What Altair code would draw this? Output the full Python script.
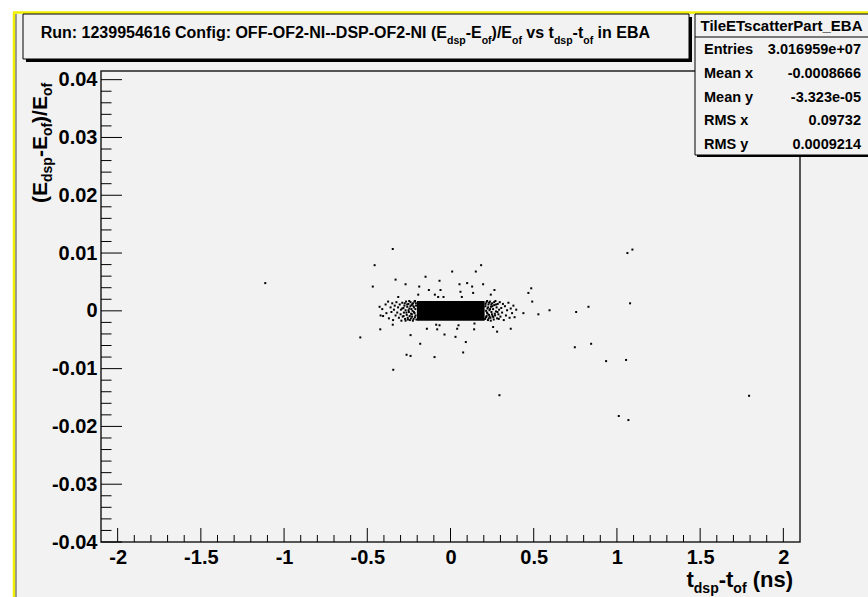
import altair as alt
import pandas as pd

# ---------------- data ----------------
core_x = [-0.202]
core_x2 = [0.205]
core_y = [-0.0017]
core_y2 = [0.0017]

halo_x = [-0.41, -0.405, -0.39, -0.385, -0.375, -0.37, -0.36, -0.355, -0.35, -0.345,
          -0.34, -0.335, -0.33, -0.325, -0.32, -0.315, -0.31, -0.305, -0.3, -0.298,
          -0.295, -0.29, -0.287, -0.283, -0.28, -0.277, -0.273, -0.27, -0.267, -0.263,
          -0.26, -0.257, -0.253, -0.25, -0.247, -0.244, -0.24, -0.237, -0.234, -0.231,
          -0.228, -0.225, -0.222, -0.219, -0.216, -0.213, -0.21, -0.207,
          -0.205, -0.208, -0.211, -0.214, -0.217, -0.22, -0.223, -0.226, -0.229, -0.232,
          -0.235, -0.238, -0.241, -0.245, -0.248, -0.252, -0.256, -0.26, -0.265, -0.27,
          -0.275, -0.282, -0.29,
          0.21, 0.213, 0.216, 0.219, 0.222, 0.225, 0.228, 0.231, 0.234, 0.237,
          0.24, 0.243, 0.246, 0.25, 0.253, 0.256, 0.26, 0.263, 0.266, 0.27,
          0.273, 0.277, 0.28, 0.284, 0.288, 0.292, 0.296, 0.3, 0.305, 0.31,
          0.315, 0.32, 0.327, 0.333, 0.34, 0.348, 0.355, 0.362, 0.37, 0.378,
          0.385, 0.395,
          0.208, 0.211, 0.214, 0.217, 0.22, 0.223, 0.226, 0.229, 0.232, 0.235,
          0.238, 0.242, 0.245, 0.249, 0.252, 0.257, 0.262, 0.268, 0.274, 0.282, 0.29]
halo_y = [0.0003, -0.0009, 0.0011, -0.0004, 0.0016, -0.0013, 0.0006, -0.0002, 0.0013, -0.0016,
          0.0002, 0.0009, -0.0008, 0.0015, -0.0003, 0.0006, -0.0012, 0.0011, -0.0006, 0.0002,
          -0.0017, 0.0014, -0.001, 0.0005, -0.0003, 0.0009, -0.0014, 0.0001, 0.0016, -0.0007,
          0.0007, -0.0012, 0.0012, -0.0002, 0.0004, -0.0016, 0.0015, -0.0005, 0.001, -0.001,
          0.0, 0.0013, -0.0014, 0.0006, -0.0004, 0.0017, -0.0008, 0.0009,
          -0.0015, 0.0013, 0.0003, -0.0011, 0.0016, -0.0002, 0.0008, -0.0017, 0.0012, -0.0006,
          0.0003, -0.0013, 0.0008, -0.0009, 0.0017, 0.0001, -0.0015, 0.0011, -0.0003, -0.0017,
          0.0013, -0.0009, 0.0004,
          0.0008, -0.0011, 0.0015, -0.0003, 0.0004, -0.0016, 0.0011, -0.0007, 0.0001, 0.0016,
          -0.0012, 0.0007, -0.0002, 0.0013, -0.0009, 0.0003, -0.0015, 0.001, -0.0005, 0.0017,
          -0.0001, 0.0006, -0.0013, 0.0012, -0.0006, 0.0002, 0.0015, -0.001, 0.0005, -0.0003,
          0.0012, -0.0016, 0.0008, -0.0008, 0.0001, 0.0014, -0.0012, 0.0004, -0.0004, 0.0009,
          -0.0011, 0.0002,
          -0.0014, 0.0012, 0.0, -0.0009, 0.0017, -0.0005, 0.0006, -0.0013, 0.0014, -0.001,
          0.0003, -0.0017, 0.0011, -0.0006, 0.0008, -0.0011, 0.0015, -0.0008, 0.0011, -0.0002, -0.0014]

out_x = [-0.347, -0.456, 0.184, 0.010, 0.152, -0.150, -0.330, -0.066, -0.467, -0.270,
         0.054, 0.100, 0.130, 0.196, -0.188, -0.130, -0.060, 0.060, 0.136, 0.264,
         0.485, 0.468, -0.194, -0.094, -0.074, -0.042, 0.068, 0.242, -0.314, 0.491,
         0.595, 0.528, 0.438, -0.426, -0.420, -0.422, -0.542, -0.347, -0.240, -0.182,
         -0.264, -0.240, -0.096, -0.142, -0.086, -0.066, -0.080, -0.036, 0.030, 0.040,
         0.048, 0.092, 0.076, 0.144, 0.142, 0.256, 0.280, 0.362, -1.113, -0.344,
         0.294, 1.093, 1.063, 0.755, 0.829, 1.079, 0.747, 0.845, 0.935, 1.055,
         1.794, 1.011, 1.069]
out_y = [0.0107, 0.0079, 0.0079, 0.0068, 0.0068, 0.0059, 0.0054, 0.0052, 0.0042, 0.0046,
         0.0046, 0.0048, 0.0042, 0.0046, 0.0042, 0.0036, 0.0036, 0.0033, 0.0031, 0.0036,
         0.0039, 0.0031, 0.0028, 0.0028, 0.0024, 0.0024, 0.0024, 0.0028, 0.0024, 0.0016,
         0.0001, -0.0006, -0.0004, 0.0007, -0.0008, -0.0032, -0.0046, -0.0024, -0.0042, -0.0057,
         -0.0076, -0.0078, -0.0080, -0.0031, -0.0024, -0.0025, -0.0032, -0.0041, -0.0045, -0.0031,
         -0.0025, -0.0054, -0.0072, -0.0022, -0.0032, -0.0028, -0.0036, -0.0031, 0.0048, -0.0102,
         -0.0146, 0.0106, 0.0100, -0.0002, 0.0007, 0.0013, -0.0063, -0.0057, -0.0087, -0.0085,
         -0.0147, -0.0182, -0.0189]

x_major = [-2, -1.5, -1, -0.5, 0, 0.5, 1, 1.5, 2]
y_major = [-0.04, -0.03, -0.02, -0.01, 0, 0.01, 0.02, 0.03, 0.04]

stats_title = "TileETscatterPart_EBA"
stats_labels = ["Entries", "Mean x", "Mean y", "RMS x", "RMS y"]
stats_values = ["3.016959e+07", "-0.0008666", "-3.323e-05", "0.09732", "0.0009214"]

# ---------------- layout ----------------
L, T = 101, 71          # plot origin in page pixels
W, H = 699, 471         # plot area
FONT = "Liberation Sans"
BG = "#f2f2f2"

x_minor = [round(-2.0 + 0.1 * i, 1) for i in range(41)]
x_minor = [v for v in x_minor if abs(v * 2 - round(v * 2)) > 1e-9]
y_minor = [round(-0.04 + 0.002 * i, 3) for i in range(41)]
y_minor = [v for v in y_minor if abs(v * 100 - round(v * 100)) > 1e-9]

xs = alt.Scale(domain=[-2.1, 2.1], nice=False, zero=False)
ys = alt.Scale(domain=[-0.04, 0.0415], nice=False, zero=False)

# Arial / Liberation Sans Bold advance widths (per 1000 em)
CW = {" ": 278, "(": 333, ")": 333, "/": 278, "-": 333, ".": 278, ":": 333, "_": 556,
      "A": 722, "B": 722, "C": 722, "D": 722, "E": 667, "F": 611, "I": 278, "N": 722,
      "O": 778, "P": 667, "R": 722, "S": 667, "T": 611,
      "a": 556, "c": 556, "d": 611, "e": 556, "f": 333, "g": 611, "i": 278, "n": 611,
      "o": 611, "p": 611, "r": 389, "s": 556, "t": 333, "u": 611, "v": 556}
for dch in "0123456789":
    CW[dch] = 556


def tw(s, fs):
    return sum(CW.get(c, 556) for c in s) * fs / 1000.0


dummy = pd.DataFrame({"d": [0]})


def txt(s, x, y, fs, align="left", baseline="alphabetic", angle=0, color="black"):
    return alt.Chart(dummy).mark_text(
        text=s, font=FONT, fontWeight="bold", fontSize=fs, align=align,
        baseline=baseline, angle=angle, color=color
    ).encode(x=alt.value(x - L), y=alt.value(y - T))


def box(x1, y1, x2, y2, fill, stroke=None, sw=1):
    kw = dict(fill=fill)
    if stroke:
        kw.update(stroke=stroke, strokeWidth=sw)
    else:
        kw.update(strokeWidth=0)
    return alt.Chart(dummy).mark_rect(**kw).encode(
        x=alt.value(x1 - L), x2=alt.value(x2 - L), y=alt.value(y1 - T), y2=alt.value(y2 - T))


def line(x1, y1, x2, y2, color, sw=1):
    return alt.Chart(dummy).mark_rule(color=color, strokeWidth=sw).encode(
        x=alt.value(x1 - L), x2=alt.value(x2 - L), y=alt.value(y1 - T), y2=alt.value(y2 - T))


def rich(pieces, x0, y_main, y_sub, fm, fsz, angle=0):
    """lay out text pieces ('m' main / 's' subscript) one after the other"""
    out = []
    pos = x0
    for s, kind in pieces:
        fs = fm if kind == "m" else fsz
        lead = len(s) - len(s.lstrip(" "))
        shift = tw(" " * lead, fs)
        body = s.lstrip(" ")
        yy = y_main if kind == "m" else y_sub
        if angle == 0:
            pos += shift
            out.append(txt(body, pos, yy, fs))
            pos += tw(body, fs)
        else:
            pos -= shift
            out.append(txt(body, yy, pos, fs, angle=270))
            pos -= tw(body, fs)
    return out


layers = []
# white outside, yellow pad border
layers.append(box(0, 0, 14, 600, "white"))
layers.append(box(0, 0, 870, 12, "white"))
layers.append(line(14, 12, 14, 600, "#f0f000", 2.5))
layers.append(line(13, 12.5, 870, 12.5, "#f0f000", 2.5))
layers.append(line(16, 14, 16, 600, "#444444", 1))

# data
core = pd.DataFrame({"x": core_x, "x2": core_x2, "y": core_y, "y2": core_y2})
pts = pd.DataFrame({"x": halo_x + out_x, "y": halo_y + out_y})

xaxis = alt.Axis(values=x_major, labelExpr="'' + datum.value", tickSize=0, domain=False,
                 grid=False, labelFont=FONT, labelFontWeight="bold", labelFontSize=20,
                 labelColor="black", labelPadding=5, labelFlush=False, labelOverlap=False,
                 title=None)
yaxis = alt.Axis(values=y_major, labelExpr="'' + datum.value", tickSize=0, domain=False,
                 grid=False, labelFont=FONT, labelFontWeight="bold", labelFontSize=20,
                 labelColor="black", labelPadding=4, labelFlush=False, labelOverlap=False,
                 title=None)

layers.append(alt.Chart(pts).mark_square(size=4, color="black", opacity=1).encode(
    x=alt.X("x:Q", scale=xs, axis=xaxis), y=alt.Y("y:Q", scale=ys, axis=yaxis)))
layers.append(alt.Chart(core).mark_rect(color="black").encode(
    x=alt.X("x:Q", scale=xs), x2="x2:Q", y=alt.Y("y:Q", scale=ys), y2="y2:Q"))

# inward ticks
for vals, ln in ((x_major, 14), (x_minor, 7)):
    layers.append(alt.Chart(pd.DataFrame({"v": vals})).mark_rule(color="black", strokeWidth=1).encode(
        x=alt.X("v:Q", scale=xs), y=alt.value(H), y2=alt.value(H - ln)))
for vals, ln in ((y_major, 21), (y_minor, 10.5)):
    layers.append(alt.Chart(pd.DataFrame({"v": vals})).mark_rule(color="black", strokeWidth=1).encode(
        y=alt.Y("v:Q", scale=ys), x=alt.value(0), x2=alt.value(ln)))

# title box
layers.append(box(26, 17, 692, 62, "black"))
layers.append(box(23, 14, 689, 59, BG, "black", 1))
title_pieces = [("Run: 1239954616 Config: OFF-OF2-NI--DSP-OF2-NI (E", "m"), ("dsp", "s"),
                ("-E", "m"), ("of", "s"), (")/E", "m"), ("of", "s"), (" vs t", "m"),
                ("dsp", "s"), ("-t", "m"), ("of", "s"), (" in EBA", "m")]
layers += rich(title_pieces, 40.7, 38, 43.5, 16, 10.5)

# stats box
layers.append(box(697, 16, 900, 157, "black"))
layers.append(box(695, 14, 900, 155, BG, "black", 1))
layers.append(line(695, 37, 900, 37, "black", 1))
layers.append(txt(stats_title, 781.5, 26, 15, align="center", baseline="middle"))
for i, (lab, val) in enumerate(zip(stats_labels, stats_values)):
    yy = 50 + 23.8 * i
    layers.append(txt(lab, 704, yy, 14.5, baseline="middle"))
    layers.append(txt(val, 861, yy, 14.5, align="right", baseline="middle"))

# y title (rotated)
ytitle = [("(E", "m"), ("dsp", "s"), ("-E", "m"), ("of", "s"), (")/E", "m"), ("of", "s")]
layers += rich(ytitle, 203, 47, 52, 21, 14, angle=270)

# x title (right aligned at 793)
xtitle = [("t", "m"), ("dsp", "s"), ("-t", "m"), ("of", "s"), (" (ns)", "m")]
total = sum(tw(s, 22 if k == "m" else 14) for s, k in xtitle)
layers += rich(xtitle, 793 - total, 587, 593, 22, 14)

chart = alt.layer(*layers).properties(
    width=W, height=H,
    autosize=alt.AutoSizeParams(type="none"),
    padding={"left": L, "top": T, "right": 868 - L - W, "bottom": 597 - T - H},
).configure(background=BG).configure_view(stroke="#222222", strokeWidth=1.5)

chart.save("out.html", embed_options={"renderer": "svg", "actions": False})
